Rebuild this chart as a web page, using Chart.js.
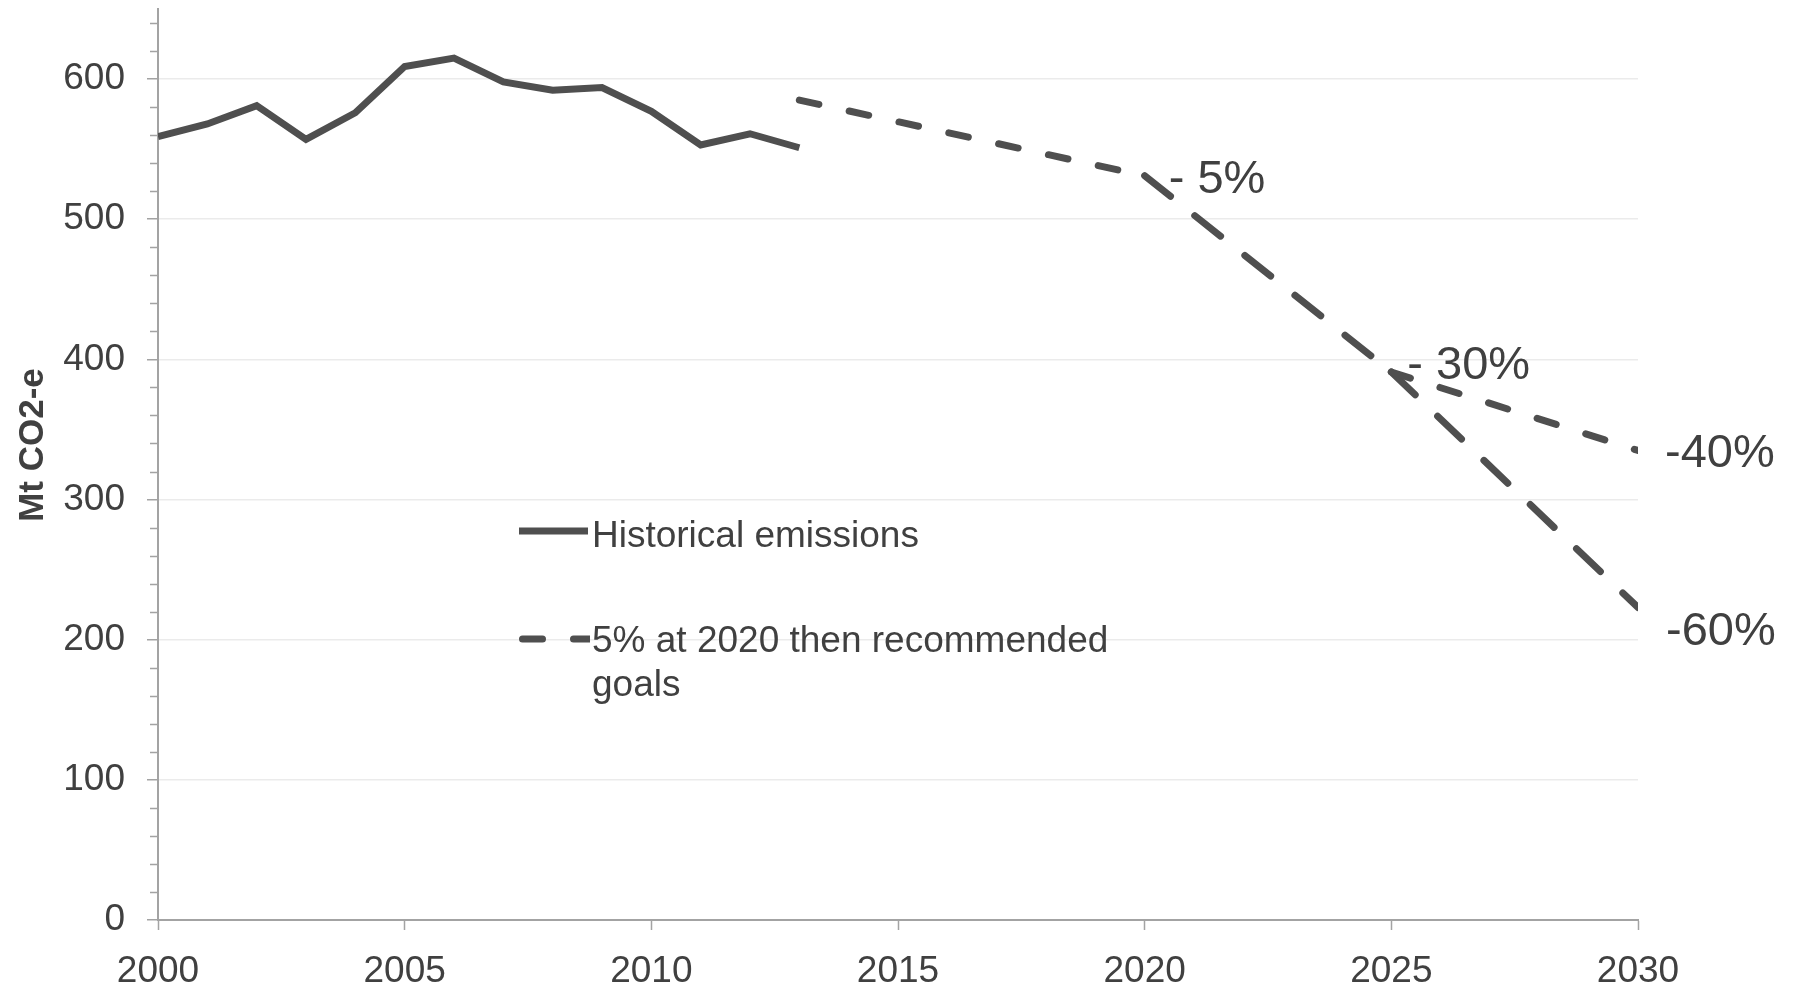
<!DOCTYPE html>
<html>
<head>
<meta charset="utf-8">
<script src="https://cdn.jsdelivr.net/npm/chart.js@4.4.1/dist/chart.umd.min.js"></script>
<style>
  html, body { margin: 0; padding: 0; background: #fff; }
  #chartEmissions { display: block; }
</style>
</head>
<body>
<canvas id="chartEmissions" width="1799" height="986"></canvas>
<script>
// Emissions historiques (Mt CO2-e)
const histYears  = [2000, 2001, 2002, 2003, 2004, 2005, 2006, 2007, 2008, 2009, 2010, 2011, 2012, 2013];
const histValues = [559, 568, 581, 557, 576, 609, 615, 598, 592, 594, 577, 553, 561, 551];

// trajectoire : -5% en 2020, -30% en 2025, -40% en 2030
const targetYears  = [2013, 2020, 2025, 2030];
const targetValues = [585, 531, 391, 335];

// branche plus ambitieuse : -60% en 2030
const deepYears  = [2025, 2030];
const deepValues = [391, 223];

const legendLabels = [['Historical emissions'], ['5% at 2020 then recommended', 'goals']];
const yTickValues = [0, 100, 200, 300, 400, 500, 600];
const xTickValues = [2000, 2005, 2010, 2015, 2020, 2025, 2030];

const pctLabels = ['- 5%', '- 30%', '-40%', '-60%'];
const pctYears  = [2020, 2025, 2030, 2030];
const pctValues = [531, 391, 335, 223];

const LINE_COLOR = '#4f4f4f';
const TEXT_COLOR = '#404040';
const AXIS_COLOR = '#a3a3a3';
const GRID_COLOR = '#ebebeb';
const SHORT_DASH = [20, 31];
const LONG_DASH  = [33, 31];
const FONT = "'Liberation Sans', Arial, sans-serif";

Chart.defaults.font.family = FONT;
Chart.defaults.color = TEXT_COLOR;

const toPoints = (xs, ys) => xs.map((x, i) => ({ x: x, y: ys[i] }));

// ticks mineurs, titre de l'axe, légende et pourcentages
const decorPlugin = {
    id: 'decor',
    afterDraw(chart) {
        const ctx = chart.ctx;
        const xs = chart.scales.x, ys = chart.scales.y;
        const area = chart.chartArea;
        ctx.save();

        // ticks mineurs tous les 20
        ctx.strokeStyle = AXIS_COLOR;
        ctx.lineWidth = 1.5;
        for (let v = 20; v < ys.max; v += 20) {
            if (v % 100 === 0) continue;
            const py = Math.round(ys.getPixelForValue(v)) + 0.5;
            ctx.beginPath();
            ctx.moveTo(area.left - 8, py);
            ctx.lineTo(area.left, py);
            ctx.stroke();
        }

        // titre de l'axe Y
        ctx.fillStyle = TEXT_COLOR;
        ctx.font = "bold 35px " + FONT;
        ctx.save();
        ctx.translate(43, 445);
        ctx.rotate(-Math.PI / 2);
        ctx.textAlign = 'center';
        ctx.textBaseline = 'alphabetic';
        ctx.fillText('Mt CO2-e', 0, 0);
        ctx.restore();

        // légende
        ctx.strokeStyle = LINE_COLOR;
        ctx.lineWidth = 7;
        ctx.lineCap = 'butt';
        ctx.beginPath();
        ctx.moveTo(519, 531);
        ctx.lineTo(588, 531);
        ctx.stroke();

        ctx.save();
        ctx.beginPath();
        ctx.rect(510, 620, 80, 40);
        ctx.clip();
        ctx.lineCap = 'round';
        ctx.setLineDash(SHORT_DASH);
        ctx.beginPath();
        ctx.moveTo(522.5, 639);
        ctx.lineTo(600, 639);
        ctx.stroke();
        ctx.restore();

        ctx.font = "37px " + FONT;
        ctx.textAlign = 'left';
        ctx.textBaseline = 'alphabetic';
        ctx.fillText(legendLabels[0][0], 592, 547);
        legendLabels[1].forEach((line, i) => ctx.fillText(line, 592, 652 + i * 44));

        // pourcentages
        const offsets = [[24, 17], [16, 7], [27, 16.5], [28, 37.5]];
        ctx.font = "47px " + FONT;
        pctLabels.forEach((lbl, i) => {
            const px = xs.getPixelForValue(pctYears[i]) + offsets[i][0];
            const py = ys.getPixelForValue(pctValues[i]) + offsets[i][1];
            ctx.fillText(lbl, px, py);
        });

        ctx.restore();
    }
};

const canvas = document.getElementById('chartEmissions');

const chart = new Chart(canvas, {
    type: 'line',
    data: {
        datasets: [
            {
                label: 'Historical emissions',
                data: toPoints(histYears, histValues),
                borderColor: LINE_COLOR,
                borderWidth: 7,
                pointRadius: 0,
                tension: 0,
                clip: 0
            },
            {
                label: '5% at 2020 then recommended goals',
                data: toPoints(targetYears, targetValues),
                borderColor: LINE_COLOR,
                borderWidth: 7,
                borderCapStyle: 'round',
                borderDash: SHORT_DASH,
                pointRadius: 0,
                tension: 0,
                clip: 0,
                segment: {
                    borderDash: c => c.p0DataIndex === 1 ? LONG_DASH : SHORT_DASH
                }
            },
            {
                label: 'recommended goals -60%',
                data: toPoints(deepYears, deepValues),
                borderColor: LINE_COLOR,
                borderWidth: 7,
                borderCapStyle: 'round',
                borderDash: LONG_DASH,
                pointRadius: 0,
                tension: 0,
                clip: 0
            }
        ]
    },
    options: {
        responsive: false,
        animation: false,
        devicePixelRatio: 1,
        layout: { padding: { top: 9, right: 161, left: 0, bottom: 0 } },
        plugins: {
            legend: { display: false },
            tooltip: { enabled: false }
        },
        scales: {
            x: {
                type: 'linear',
                min: 2000,
                max: 2030,
                afterBuildTicks: s => { s.ticks = xTickValues.map(v => ({ value: v })); },
                afterFit: s => {
                    s.height = 66;
                    s.paddingLeft = 0; s.paddingRight = 0;
                },
                ticks: {
                    font: { size: 37 },
                    color: TEXT_COLOR,
                    padding: 20,
                    maxRotation: 0,
                    callback: v => String(v)
                },
                grid: {
                    drawOnChartArea: false,
                    tickLength: 10,
                    tickColor: AXIS_COLOR,
                    tickWidth: 1.5
                },
                border: { color: AXIS_COLOR, width: 2 }
            },
            y: {
                min: 0,
                max: 650,
                afterBuildTicks: s => { s.ticks = yTickValues.map(v => ({ value: v })); },
                afterFit: s => {
                    s.width = 158;
                    s.paddingTop = 0; s.paddingBottom = 0;
                },
                ticks: {
                    font: { size: 37 },
                    color: TEXT_COLOR,
                    padding: 22,
                    callback: v => String(v)
                },
                grid: {
                    color: c => c.tick && c.tick.value === 0 ? 'rgba(0,0,0,0)' : GRID_COLOR,
                    lineWidth: 1.5,
                    tickLength: 11,
                    tickColor: AXIS_COLOR,
                    tickWidth: 1.5
                },
                border: { color: AXIS_COLOR, width: 2 }
            }
        }
    },
    plugins: [decorPlugin]
});
</script>
</body>
</html>
